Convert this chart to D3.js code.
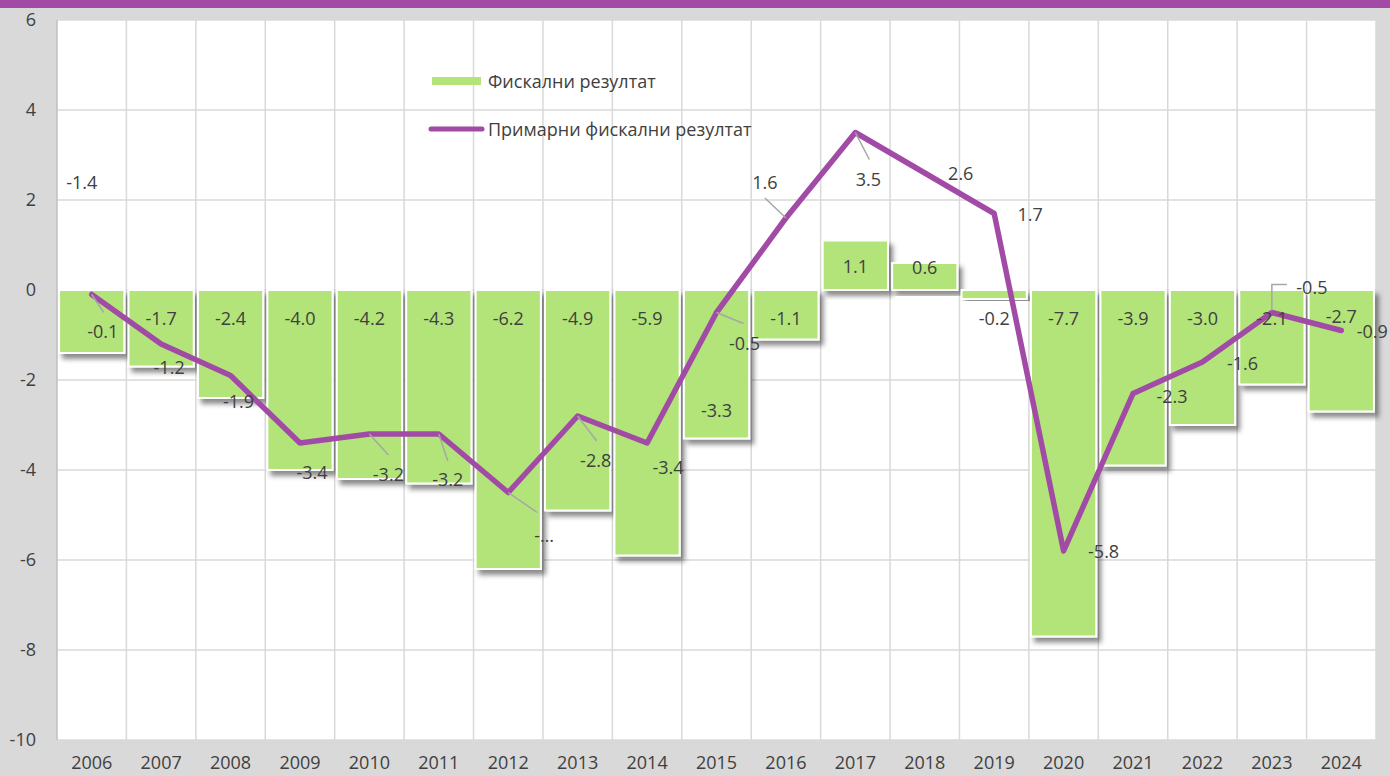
<!DOCTYPE html>
<html><head><meta charset="utf-8">
<script src="https://cdn.jsdelivr.net/npm/d3@7"></script>
<style>
html,body{margin:0;padding:0;background:#d9d9d9;}
svg{display:block;}
text{font-family:"Open Sans","Noto Sans",sans-serif;fill:#404040;}
</style></head>
<body>
<svg id="chart" width="1390" height="776"></svg>
<script>
const years = ["2006","2007","2008","2009","2010","2011","2012","2013","2014","2015","2016","2017","2018","2019","2020","2021","2022","2023","2024"];
const fiscal = [-1.4,-1.7,-2.4,-4.0,-4.2,-4.3,-6.2,-4.9,-5.9,-3.3,-1.1,1.1,0.6,-0.2,-7.7,-3.9,-3.0,-2.1,-2.7];
const primary = [-0.1,-1.2,-1.9,-3.4,-3.2,-3.2,-4.5,-2.8,-3.4,-0.5,1.6,3.5,2.6,1.7,-5.8,-2.3,-1.6,-0.5,-0.9];
const yTicks = [-10,-8,-6,-4,-2,0,2,4,6];
const seriesNames = ["Фискални резултат","Примарни фискални резултат"];

// label placement (px offsets) — layout only
const barLabelOff = [[-10,-108],[0,28],[0,28],[0,28],[0,28],[0,28],[0,28],[0,28],[0,28],[0,120],[0,28],[0,-24],[0,-23],[0,28],[0,28],[0,28],[0,28],[0,28],[0,26]];
const lineLabelOff = [[11,36],[8,23],[8,25],[12,29],[19,40],[9,45],[36,42],[18,44],[21,24],[28,30],[-21,-36],[13,46],[36,0],[36,0],[40,0],[39,2],[40,1],[40,-26],[31,0]];
const leaderIdx = {0:[12,18],4:[19,21],5:[9,27],6:[29,20],7:[19,25],9:[27,11],10:[-21,-20],11:[14,27]};

const W = 1390, H = 776;
const M = {left:57, right:14, top:20, bottom:36};
const svg = d3.select("#chart");
const FS = 18;

const loc = d3.formatLocale({decimal:".", thousands:",", grouping:[3], currency:["",""], minus:"-"});
const fmt = loc.format(".1f");
const fmtInt = loc.format("d");

const defs = svg.append("defs");
const f = defs.append("filter").attr("id","shadow").attr("x","-20%").attr("y","-20%").attr("width","140%").attr("height","140%");
f.append("feDropShadow").attr("dx",4).attr("dy",5).attr("stdDeviation",2.5).attr("flood-color","#000").attr("flood-opacity",0.45);

svg.append("rect").attr("width",W).attr("height",H).attr("fill","#d9d9d9");
svg.append("rect").attr("x",0).attr("y",0).attr("width",W).attr("height",8).attr("fill","#a24ba6");

const x = d3.scaleBand().domain(years).range([M.left, W-M.right]).paddingInner(0.06).paddingOuter(0.03);
const xb = d3.scaleBand().domain(years).range([M.left, W-M.right]);
const y = d3.scaleLinear().domain([-10,6]).range([H-M.bottom, M.top]);

svg.append("rect").attr("x",M.left).attr("y",M.top).attr("width",W-M.right-M.left).attr("height",H-M.bottom-M.top).attr("fill","#fff");

// grid
const g = svg.append("g");
g.selectAll("line.h").data(yTicks).join("line")
  .attr("x1",M.left).attr("x2",W-M.right).attr("y1",d=>y(d)).attr("y2",d=>y(d))
  .attr("stroke","#d9d9d9").attr("stroke-width",1.5);
g.selectAll("line.v").data(years.slice(1).concat(["end"])).join("line")
  .attr("x1",(d,i)=> i<years.length-1 ? xb(d) : W-M.right).attr("x2",(d,i)=> i<years.length-1 ? xb(d) : W-M.right)
  .attr("y1",M.top).attr("y2",H-M.bottom).attr("stroke","#d9d9d9").attr("stroke-width",1.5);
svg.append("line").attr("x1",M.left).attr("x2",M.left).attr("y1",M.top).attr("y2",H-M.bottom).attr("stroke","#bfbfbf").attr("stroke-width",1.5);

// axes
const yAxis = d3.axisLeft(y).tickValues(yTicks).tickSize(0).tickPadding(0).tickFormat(fmtInt);
const ya = svg.append("g").attr("transform","translate(36,0)").call(yAxis);
ya.select(".domain").remove();
ya.selectAll("text").attr("font-size",FS).style("fill","#404040").attr("font-family","Open Sans, sans-serif");

const xAxis = d3.axisBottom(xb).tickSize(0).tickPadding(0);
const xa = svg.append("g").attr("transform",`translate(0,${H-M.bottom+23})`).call(xAxis);
xa.select(".domain").remove();
xa.selectAll("text").attr("font-size",FS).style("fill","#404040").attr("font-family","Open Sans, sans-serif").attr("dy","0.32em");

// bars
svg.append("g").selectAll("rect").data(fiscal).join("rect")
  .attr("x",(d,i)=>x(years[i])).attr("width",x.bandwidth())
  .attr("y",d=>y(Math.max(0,d))).attr("height",d=>Math.abs(y(d)-y(0)))
  .attr("fill","#b3e47a").attr("stroke","#fff").attr("stroke-width",2)
  .attr("filter","url(#shadow)");

// line
const cx = i => xb(years[i]) + xb.bandwidth()/2;
const line = d3.line().x((d,i)=>cx(i)).y(d=>y(d));
svg.append("path").datum(primary).attr("d",line).attr("fill","none")
  .attr("stroke","#a24ba6").attr("stroke-width",5.5).attr("stroke-linejoin","round").attr("stroke-linecap","round");

// leader lines
Object.entries(leaderIdx).forEach(([k,v])=>{
  const i=+k;
  svg.append("line").attr("x1",cx(i)).attr("y1",y(primary[i])).attr("x2",cx(i)+v[0]).attr("y2",y(primary[i])+v[1])
    .attr("stroke","#a6a6a6").attr("stroke-width",1.5);
});
{
  const i=17, px=cx(i), py=y(primary[i]);
  svg.append("path").attr("d",`M${px},${py-2}L${px},${py-28}L${px+15},${py-28}`).attr("fill","none").attr("stroke","#a6a6a6").attr("stroke-width",1.5);
}

// bar labels
svg.append("g").selectAll("text").data(fiscal).join("text")
  .attr("x",(d,i)=>cx(i)+barLabelOff[i][0]).attr("y",(d,i)=>y(0)+barLabelOff[i][1])
  .attr("text-anchor","middle").attr("dominant-baseline","central").attr("font-size",FS)
  .text(d=>fmt(d));
// line labels
svg.append("g").selectAll("text").data(primary).join("text")
  .attr("x",(d,i)=>cx(i)+lineLabelOff[i][0]).attr("y",(d,i)=>y(d)+lineLabelOff[i][1])
  .attr("text-anchor","middle").attr("dominant-baseline","central").attr("font-size",FS)
  .text((d,i)=> i===6 ? "-…" : fmt(d));

// legend
const lg = svg.append("g");
lg.append("rect").attr("x",432).attr("y",77).attr("width",49).attr("height",8).attr("fill","#b3e47a");
lg.append("text").attr("x",488).attr("y",81).attr("dominant-baseline","central").attr("font-size",FS).text(seriesNames[0]);
lg.append("line").attr("x1",431).attr("x2",482).attr("y1",129).attr("y2",129).attr("stroke","#a24ba6").attr("stroke-width",5).attr("stroke-linecap","round");
lg.append("text").attr("x",488).attr("y",129).attr("dominant-baseline","central").attr("font-size",FS).text(seriesNames[1]);
</script>
</body></html>
